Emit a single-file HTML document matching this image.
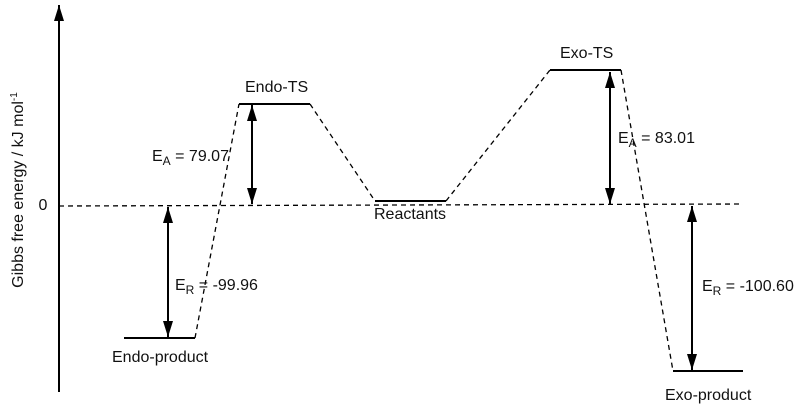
<!DOCTYPE html>
<html><head><meta charset="utf-8"><style>
html,body{margin:0;padding:0;background:#fff}
svg{display:block}
text{font-family:"Liberation Sans",Arial,sans-serif;font-size:16px;fill:#111}
</style></head><body>
<svg width="800" height="407" viewBox="0 0 800 407">
<defs>
<marker id="b" viewBox="0 0 10 10" refX="10" refY="5" markerWidth="16" markerHeight="10" markerUnits="userSpaceOnUse" orient="auto-start-reverse" preserveAspectRatio="none"><path d="M0,0L10,5L0,10Z" fill="#000"/></marker>
</defs>
<g stroke="#000" fill="none">
<line x1="59" y1="392" x2="59" y2="5" stroke-width="2" marker-end="url(#b)"/>
<g stroke-width="1.3" stroke-dasharray="5,4">
<line x1="59" y1="206" x2="743" y2="204"/>
<line x1="195" y1="338" x2="239" y2="104"/>
<line x1="310" y1="104" x2="375" y2="201"/>
<line x1="446" y1="201" x2="550" y2="70"/>
<line x1="621" y1="70" x2="673" y2="371"/>
</g>
<g stroke-width="2">
<line x1="124" y1="338" x2="195" y2="338"/>
<line x1="239" y1="104" x2="310" y2="104"/>
<line x1="375" y1="201" x2="446" y2="201"/>
<line x1="550" y1="70" x2="621" y2="70"/>
<line x1="673" y1="371" x2="743" y2="371"/>
</g>
<g stroke-width="2" marker-start="url(#b)" marker-end="url(#b)">
<line x1="252" y1="105" x2="252" y2="204"/>
<line x1="168" y1="207" x2="168" y2="337"/>
<line x1="610" y1="72" x2="610" y2="204"/>
<line x1="692" y1="206" x2="692" y2="370"/>
</g>
</g>
<text x="43" y="210" text-anchor="middle">0</text>
<text transform="translate(23,190) rotate(-90)" text-anchor="middle" font-size="15">Gibbs free energy / kJ mol<tspan dy="-6" font-size="10">-1</tspan></text>
<text x="245" y="92">Endo-TS</text>
<text x="152" y="161">E<tspan dy="4" font-size="12">A</tspan><tspan dy="-4"> = 79.07</tspan></text>
<text x="175" y="290">E<tspan dy="4" font-size="12">R</tspan><tspan dy="-4"> = -99.96</tspan></text>
<text x="112" y="362">Endo-product</text>
<text x="374" y="219">Reactants</text>
<text x="560" y="58">Exo-TS</text>
<text x="618" y="143">E<tspan dy="4" font-size="12">A</tspan><tspan dy="-4"> = 83.01</tspan></text>
<text x="702" y="291">E<tspan dy="4" font-size="12">R</tspan><tspan dy="-4"> = -100.60</tspan></text>
<text x="665" y="400">Exo-product</text>
</svg>
</body></html>
